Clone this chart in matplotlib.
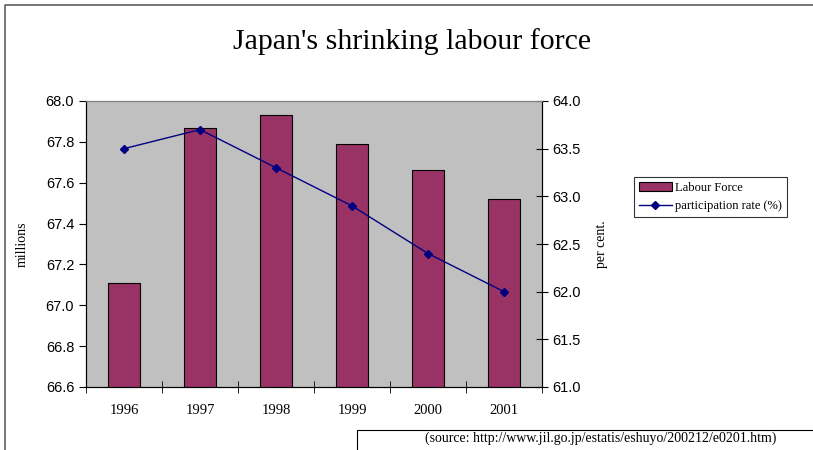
import numpy as np
import matplotlib.pyplot as plt
from matplotlib.lines import Line2D
from matplotlib.patches import Rectangle

years = ['1996', '1997', '1998', '1999', '2000', '2001']
labour_force = [67.11, 67.87, 67.93, 67.79, 67.66, 67.52]
participation = [63.5, 63.7, 63.3, 62.9, 62.4, 62.0]

plt.rcParams['font.family'] = ['Liberation Serif', 'DejaVu Serif']

fig = plt.figure(figsize=(8.13, 4.5), dpi=100)
ax = fig.add_axes([86 / 813, 1 - 387 / 450, 456 / 813, 286 / 450])
ax.set_facecolor('#c0c0c0')

x = np.arange(len(years))
ax.bar(x, labour_force, width=0.41, color='#993366', edgecolor='black',
       linewidth=0.8, label='Labour Force', zorder=2)
ax.set_xlim(-0.5, len(years) - 0.5)
ax.set_ylim(66.6, 68.0)
left_ticks = np.arange(66.6, 68.01, 0.2)
ax.set_yticks(left_ticks)
ax.set_yticklabels(['%.1f' % v for v in left_ticks], family='Liberation Sans')
ax.set_xticks(x)
ax.set_xticklabels(years)
ax.set_xticks(np.arange(-0.5, len(years), 1), minor=True)
ax.tick_params(axis='x', which='major', length=0, pad=12, labelsize=10.5)
ax.tick_params(axis='x', which='minor', direction='inout', length=8)
ax.tick_params(axis='y', direction='out', length=5, labelsize=10.5)
ax.set_ylabel('millions', fontsize=10, labelpad=12)

ax2 = ax.twinx()
ax2.plot(x, participation, color='#000080', marker='D', markersize=4,
         linewidth=1, label='participation rate (%)')
ax2.set_ylim(61.0, 64.0)
right_ticks = np.arange(61.0, 64.01, 0.5)
ax2.set_yticks(right_ticks)
ax2.set_yticklabels(['%.1f' % v for v in right_ticks], family='Liberation Sans')
ax2.tick_params(axis='y', direction='inout', length=8, labelsize=10.5)
ax2.set_ylabel('per cent.', fontsize=10, labelpad=10)

for a in (ax, ax2):
    for s in a.spines.values():
        s.set_color('#808080')
    a.spines['left'].set_color('black')
    a.spines['right'].set_color('black')
    a.spines['bottom'].set_color('black')

fig.text(0.507, 1 - 42 / 450, "Japan's shrinking labour force",
         ha='center', va='center', fontsize=21.5)

h1, l1 = ax.get_legend_handles_labels()
h2, l2 = ax2.get_legend_handles_labels()
leg = fig.legend(h1 + h2, l1 + l2, loc='upper left',
                 bbox_to_anchor=(634 / 813, 1 - 177 / 450), fontsize=9,
                 frameon=True, fancybox=False, edgecolor='black',
                 handlelength=2.6, borderpad=0.4, labelspacing=0.5,
                 handletextpad=0.3, borderaxespad=0)
leg.get_frame().set_linewidth(0.8)

# outer border (top and left) and source box
fig.add_artist(Line2D([5 / 813, 5 / 813, 1], [0, 1 - 5 / 450, 1 - 5 / 450],
                      transform=fig.transFigure, color='#606060',
                      linewidth=1.2))
fig.add_artist(Rectangle((357 / 813, -0.01), 470 / 813, 0.01 + 20 / 450,
                         transform=fig.transFigure, fill=False,
                         edgecolor='black', linewidth=0.8))
fig.text(601 / 813, 1 - 438 / 450,
         '(source: http://www.jil.go.jp/estatis/eshuyo/200212/e0201.htm)',
         ha='center', va='center', fontsize=10)

fig.savefig('out.png', dpi=100)
